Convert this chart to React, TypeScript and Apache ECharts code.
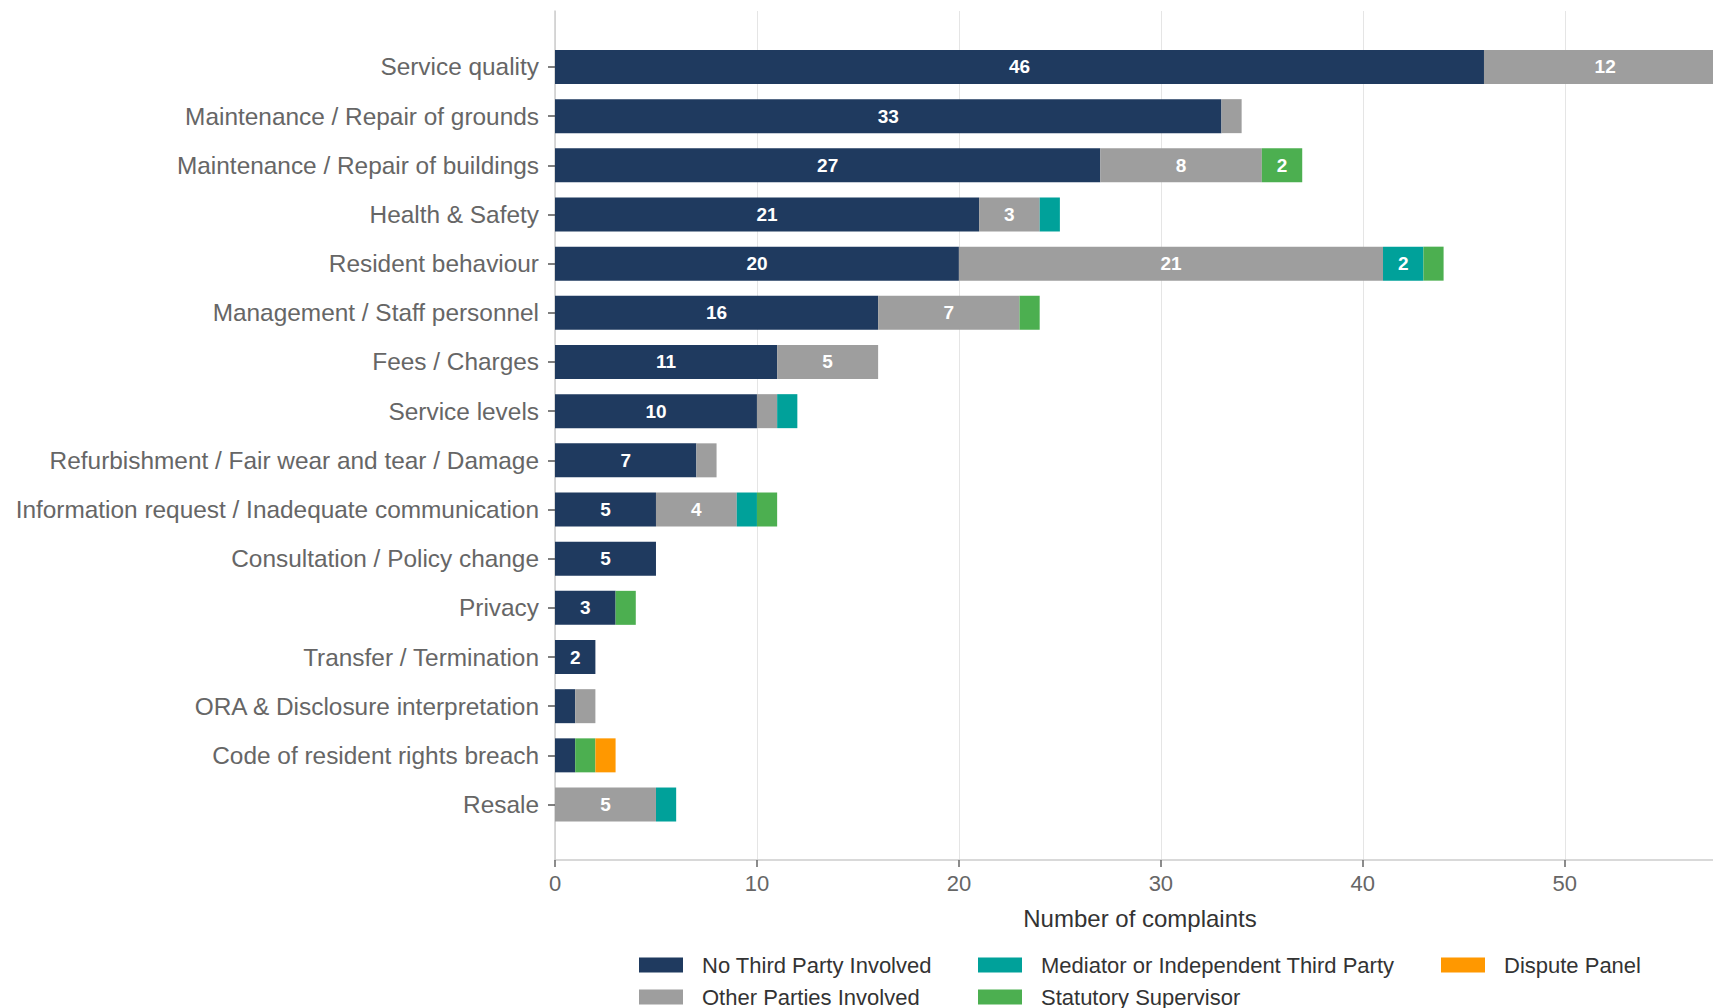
import React, { useEffect, useRef } from "react";
import * as echarts from "echarts";

const categories = [
  "Service quality",
  "Maintenance / Repair of grounds",
  "Maintenance / Repair of buildings",
  "Health & Safety",
  "Resident behaviour",
  "Management / Staff personnel",
  "Fees / Charges",
  "Service levels",
  "Refurbishment / Fair wear and tear / Damage",
  "Information request / Inadequate communication",
  "Consultation / Policy change",
  "Privacy",
  "Transfer / Termination",
  "ORA & Disclosure interpretation",
  "Code of resident rights breach",
  "Resale",
];

const noThirdParty = [46, 33, 27, 21, 20, 16, 11, 10, 7, 5, 5, 3, 2, 1, 1, 0];
const otherParties = [12, 1, 8, 3, 21, 7, 5, 1, 1, 4, 0, 0, 0, 1, 0, 5];
const mediator = [0, 0, 0, 1, 2, 0, 0, 1, 0, 1, 0, 0, 0, 0, 0, 1];
const statutory = [0, 0, 2, 0, 1, 1, 0, 0, 0, 1, 0, 1, 0, 0, 1, 0];
const disputePanel = [0, 0, 0, 0, 0, 0, 0, 0, 0, 0, 0, 0, 0, 0, 1, 0];

const seriesNames = [
  "No Third Party Involved",
  "Other Parties Involved",
  "Mediator or Independent Third Party",
  "Statutory Supervisor",
  "Dispute Panel",
];
const seriesColors = ["#1f3a5f", "#9e9e9e", "#00a19a", "#4caf50", "#ff9800"];
const xTicks = [0, 10, 20, 30, 40, 50];

const FONT = "Liberation Sans, Arial, sans-serif";
const X_MAX = 57.34;

export default function App() {
  const ref = useRef<HTMLDivElement>(null);
  useEffect(() => {
    if (!ref.current) return;
    const chart = echarts.init(ref.current, undefined, { renderer: "svg" });
    const data = [noThirdParty, otherParties, mediator, statutory, disputePanel];
    const series = data.map((vals, i) => ({
      name: seriesNames[i],
      type: "bar",
      stack: "total",
      xAxisIndex: 0,
      yAxisIndex: 0,
      barWidth: 34,
      clip: false,
      itemStyle: { color: seriesColors[i] },
      label: {
        show: true,
        position: "inside",
        color: "#ffffff",
        fontWeight: "bold",
        fontSize: 19,
        fontFamily: FONT,
        formatter: (p: any) => (p.value >= 2 ? String(p.value) : ""),
      },
      data: vals,
    }));
    const legendCommon = {
      orient: "vertical",
      top: 954,
      padding: 0,
      itemWidth: 44,
      itemHeight: 15,
      itemGap: 10,
      icon: "rect",
      textStyle: {
        fontSize: 22,
        lineHeight: 22,
        color: "#333333",
        fontFamily: FONT,
        padding: [0, 0, 0, 14],
      },
    };
    chart.setOption({
      animation: false,
      backgroundColor: "#ffffff",
      grid: [
        { left: 555, right: 0, top: 42.4, height: 786.7 },
        { left: 555, right: 0, top: 11, height: 849 },
      ],
      xAxis: [
        { type: "value", gridIndex: 0, min: 0, max: X_MAX, show: false },
        {
          type: "value",
          gridIndex: 1,
          min: 0,
          max: X_MAX,
          interval: 10,
          axisLine: { show: true, lineStyle: { color: "#cccccc", width: 1.5 } },
          axisTick: {
            show: true,
            length: 7,
            customValues: xTicks,
            lineStyle: { color: "#666666", width: 1.5 },
          },
          axisLabel: {
            customValues: xTicks,
            fontSize: 22,
            color: "#666666",
            fontFamily: FONT,
            margin: 12,
          },
          splitLine: { show: true, lineStyle: { color: "#e5e5e5", width: 1 } },
          name: "Number of complaints",
          nameLocation: "middle",
          nameGap: 46,
          nameTextStyle: {
            fontSize: 24,
            color: "#333333",
            fontFamily: FONT,
            padding: [0, 0, 0, 12],
          },
        },
      ],
      yAxis: [
        {
          type: "category",
          gridIndex: 0,
          inverse: true,
          data: categories,
          axisLine: { show: false },
          axisTick: {
            show: true,
            alignWithLabel: true,
            length: 7,
            lineStyle: { color: "#555555", width: 1.5 },
          },
          axisLabel: {
            fontSize: 24.4,
            color: "#666666",
            fontFamily: FONT,
            margin: 16,
            padding: [3, 0, 0, 0],
          },
        },
        {
          type: "value",
          gridIndex: 1,
          min: 0,
          max: 1,
          axisLine: { show: true, lineStyle: { color: "#cccccc", width: 1.5 } },
          axisTick: { show: false },
          axisLabel: { show: false },
          splitLine: { show: false },
        },
      ],
      legend: [
        { ...legendCommon, left: 639, data: [seriesNames[0], seriesNames[1]] },
        { ...legendCommon, left: 978, data: [seriesNames[2], seriesNames[3]] },
        { ...legendCommon, left: 1441, data: [seriesNames[4]] },
      ],
      series,
    });
    return () => chart.dispose();
  }, []);
  return (
    <div
      ref={ref}
      style={{ position: "fixed", left: 0, top: 0, width: 1713, height: 1008 }}
    />
  );
}
